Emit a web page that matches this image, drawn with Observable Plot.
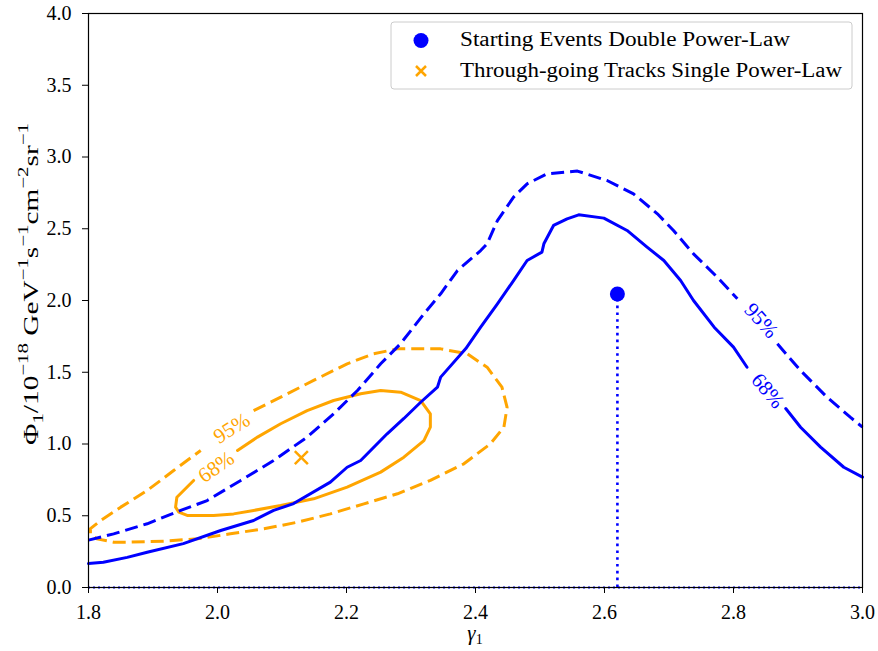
<!DOCTYPE html>
<html>
<head>
<meta charset="utf-8">
<script src="https://cdn.jsdelivr.net/npm/d3@7"></script>
<script src="https://cdn.jsdelivr.net/npm/@observablehq/plot@0.6"></script>
<style>
  html, body { margin: 0; padding: 0; background: white; }
  #chart { width: 878px; height: 651px; }
  #chart svg text, #chart svg tspan { font-family: "Liberation Serif", serif !important; }
</style>
</head>
<body>
<div id="chart"></div>
<script>
// ---- data ----
const xTicks = [1.8, 2.0, 2.2, 2.4, 2.6, 2.8, 3.0];
const yTicks = [0.0, 0.5, 1.0, 1.5, 2.0, 2.5, 3.0, 3.5, 4.0];

// Starting events (double power-law) 68% contour (null = label gap)
const blue68 = [[1.8,0.167],[1.823,0.176],[1.86,0.21],[1.891,0.246],[1.947,0.306],[2.005,0.397],
  [2.056,0.467],[2.087,0.537],[2.118,0.585],[2.175,0.734],[2.201,0.838],[2.222,0.885],[2.263,1.071],
  [2.289,1.178],[2.315,1.291],[2.341,1.396],[2.346,1.466],[2.385,1.665],[2.408,1.814],[2.434,1.977],
  [2.459,2.139],[2.48,2.279],[2.503,2.337],[2.506,2.395],[2.521,2.523],[2.542,2.569],[2.56,2.597],
  [2.599,2.574],[2.635,2.488],[2.666,2.372],[2.692,2.279],[2.718,2.139],[2.738,2.0],[2.77,1.814],
  [2.80,1.675],[2.821,1.535],null,[2.881,1.247],[2.904,1.117],[2.935,0.978],[2.971,0.838],[3.0,0.769]];

// Starting events 95% contour
const blue95 = [[1.8,0.33],[1.839,0.374],[1.891,0.444],[1.943,0.537],[1.984,0.606],[2.036,0.746],
  [2.087,0.885],[2.139,1.048],[2.18,1.21],[2.217,1.373],[2.253,1.559],[2.284,1.70],[2.32,1.907],
  [2.346,2.047],[2.372,2.209],[2.408,2.348],[2.418,2.395],[2.434,2.557],[2.459,2.72],[2.48,2.813],
  [2.511,2.883],[2.558,2.902],[2.604,2.836],[2.645,2.743],[2.682,2.604],[2.707,2.488],[2.738,2.325],
  [2.775,2.162],[2.806,2.012],null,[2.868,1.698],[2.904,1.512],[2.945,1.326],[2.981,1.187],[3.0,1.117]];

// Through-going tracks (single power-law) 68% contour
const orange68 = [[1.963,0.746],[1.937,0.629],[1.935,0.56],[1.94,0.525],[1.953,0.502],[1.994,0.502],
  [2.025,0.513],[2.056,0.537],[2.098,0.571],[2.149,0.618],[2.201,0.699],[2.253,0.804],[2.289,0.908],
  [2.32,1.024],[2.33,1.117],[2.33,1.21],[2.315,1.303],[2.284,1.361],[2.253,1.373],[2.222,1.35],
  [2.18,1.303],[2.139,1.233],[2.098,1.141],[2.062,1.048],[2.031,0.955]];

// Through-going tracks 95% contour
const orange95 = [[2.056,1.233],[2.098,1.326],[2.149,1.443],[2.201,1.559],[2.242,1.629],[2.279,1.663],
  [2.346,1.663],[2.387,1.629],[2.418,1.535],[2.441,1.396],[2.449,1.256],[2.444,1.117],[2.423,1.001],
  [2.382,0.862],[2.33,0.746],[2.279,0.653],[2.227,0.583],[2.175,0.513],[2.124,0.455],[2.072,0.409],
  [2.02,0.374],[1.969,0.339],[1.917,0.323],[1.865,0.316],[1.839,0.316],[1.813,0.339],[1.803,0.374],
  [1.803,0.41],[1.819,0.467],[1.85,0.56],[1.891,0.676],[1.932,0.815],[1.974,0.955]];

// best-fit points
const startingBest = [[2.62, 2.045]];
const throughBest = [[2.13, 0.905]];

// contour labels
const orangeLabels = [{x: 2.022, y: 1.11, t: "95%", a: -32}, {x: 1.998, y: 0.84, t: "68%", a: -35}];
const blueLabels = [{x: 2.843, y: 1.86, t: "95%", a: 48}, {x: 2.853, y: 1.37, t: "68%", a: 50}];

const legendLabels = ["Starting Events Double Power-Law", "Through-going Tracks Single Power-Law"];

// ---- chart ----
const BLUE = "#0000ff", ORANGE = "#ffa500";
const FONT = "Liberation Serif, serif";
const px = d => d ? d[0] : NaN;
const py = d => d ? d[1] : NaN;
const DASH = {strokeWidth: 3, strokeDasharray: "13,6", strokeLinecap: "butt", strokeLinejoin: "round"};

const chart = Plot.plot({
  width: 878, height: 651,
  marginLeft: 88, marginRight: 16, marginTop: 13, marginBottom: 64,
  x: {domain: [1.8, 3.0]},
  y: {domain: [0, 4]},
  style: {fontFamily: FONT, fontSize: "20px", background: "white", color: "black"},
  marks: [
    Plot.ruleY([0], {stroke: BLUE, strokeWidth: 1.8, strokeDasharray: "2,3"}),
    Plot.ruleX(startingBest, {x: px, y1: 0, y2: py, stroke: BLUE, strokeWidth: 2.6, strokeDasharray: "2.6,4.2"}),
    Plot.line(orange95, {x: px, y: py, stroke: ORANGE, ...DASH}),
    Plot.line(orange68, {x: px, y: py, stroke: ORANGE, strokeWidth: 3}),
    Plot.line(blue95, {x: px, y: py, stroke: BLUE, ...DASH}),
    Plot.line(blue68, {x: px, y: py, stroke: BLUE, strokeWidth: 3}),
    Plot.text(orangeLabels, {x: "x", y: "y", text: "t", rotate: d => d.a, fill: ORANGE, fontSize: 21, fontFamily: FONT}),
    Plot.text(blueLabels, {x: "x", y: "y", text: "t", rotate: d => d.a, fill: BLUE, fontSize: 21, fontFamily: FONT}),
    Plot.dot(startingBest, {x: px, y: py, r: 7.5, fill: BLUE}),
    Plot.dot(throughBest, {x: px, y: py, r: 6, symbol: "times", stroke: ORANGE, strokeWidth: 2.5}),
    Plot.frame({stroke: "black", strokeWidth: 1.2}),
    Plot.axisX({ticks: xTicks, tickFormat: d3.format(".1f"), tickSize: 6, tickPadding: 11, label: null, fontSize: 20, fontFamily: FONT}),
    Plot.axisY({ticks: yTicks, tickFormat: d3.format(".1f"), tickSize: 6, tickPadding: 11, label: null, fontSize: 20, fontFamily: FONT})
  ]
});
document.getElementById("chart").appendChild(chart);

// ---- axis titles and legend (SVG text) ----
const svg = d3.select(chart);

// y-axis title (starts at the bottom, reads upward)
const yt = svg.append("text")
  .attr("transform", "translate(38,445) rotate(-90)")
  .attr("text-anchor", "start")
  .attr("textLength", 322).attr("lengthAdjust", "spacingAndGlyphs")
  .attr("font-family", FONT).attr("font-size", 21).attr("fill", "black");
const parts = [["Φ", 0], ["1", -1], ["/10", 0], ["−18", 1], [" GeV", 0], ["−1", 1], ["s", 0], ["−1", 1],
  ["cm", 0], ["−2", 1], ["sr", 0], ["−1", 1]];
let prev = 0;
parts.forEach(([t, lvl]) => {
  const shift = lvl === 1 ? -10 : lvl === -1 ? 5 : 0;
  yt.append("tspan").attr("dy", shift - prev)
    .attr("font-size", lvl === 0 ? 21 : 15).text(t);
  prev = shift;
});

// x-axis title
const xt = svg.append("text")
  .attr("x", 475).attr("y", 640)
  .attr("text-anchor", "middle")
  .attr("font-family", FONT).attr("font-size", 21).attr("font-style", "italic").attr("fill", "black");
xt.append("tspan").text("γ");
xt.append("tspan").attr("dy", 4).attr("font-size", 14).attr("font-style", "normal").text("1");

// legend
const legendWidths = [330, 382];
const lg = svg.append("g");
lg.append("rect").attr("x", 391).attr("y", 22).attr("width", 461).attr("height", 67).attr("rx", 3)
  .attr("fill", "white").attr("fill-opacity", 0.8).attr("stroke", "#cccccc").attr("stroke-width", 1);
lg.append("circle").attr("cx", 421).attr("cy", 40.5).attr("r", 7.5).attr("fill", BLUE);
lg.append("path").attr("d", "M416,66L426,76M416,76L426,66").attr("stroke", ORANGE).attr("stroke-width", 2.5);
legendLabels.forEach((t, i) => {
  lg.append("text").attr("x", 460).attr("y", 46 + i * 30.5)
    .attr("text-anchor", "start")
    .attr("textLength", legendWidths[i]).attr("lengthAdjust", "spacingAndGlyphs")
    .attr("font-family", FONT).attr("font-size", 20).attr("fill", "black").text(t);
});

// make sure every text uses the serif face
svg.selectAll("text").attr("font-family", FONT);
</script>
</body>
</html>
